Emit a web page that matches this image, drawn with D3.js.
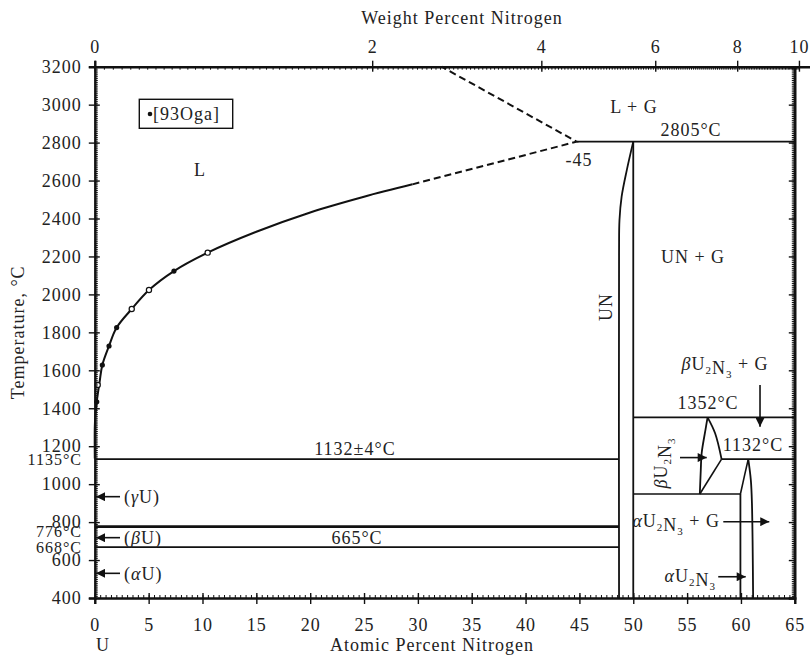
<!DOCTYPE html>
<html>
<head>
<meta charset="utf-8">
<script src="https://cdn.jsdelivr.net/npm/d3@7"></script>
<style>
body { margin: 0; background: #fff; }
svg text { font-family: "Liberation Serif", "Times New Roman", serif; fill: #222; font-size: 18px; letter-spacing: 1px; }
</style>
</head>
<body>
<svg id="chart" width="810" height="655"></svg>
<script>
// Tick labels
const atTicks = [0, 5, 10, 15, 20, 25, 30, 35, 40, 45, 50, 55, 60, 65];
const wtTicks = [0, 2, 4, 6, 8, 10];
const tempTicks = [400, 600, 800, 1000, 1200, 1400, 1600, 1800, 2000, 2200, 2400, 2600, 2800, 3000, 3200];

// Liquidus (at% N, temperature)
const liquidus = [[0, 1135], [0, 1300], [0.05, 1360], [0.18, 1434], [0.45, 1540], [0.7, 1628], [1.32, 1728],
    [2.03, 1825], [3.43, 1923], [5.03, 2023], [7.35, 2123], [10.48, 2220], [15, 2330], [20, 2432], [25, 2515], [29.5, 2580]];
const liquidusDashed = [[29.5, 2580], [44.75, 2805], [32.2, 3200]];

// Experimental points [93Oga]
const filledPts = [[0.18, 1434], [0.7, 1628], [1.32, 1728], [2.03, 1825], [7.35, 2123]];
const openPts = [[0.27, 1523], [3.43, 1923], [5.03, 2023], [10.48, 2220]];

// UN phase boundaries
const unLeft = [[50, 2805], [49.4, 2655], [48.92, 2515], [48.72, 2392], [48.68, 2218], [48.68, 400]];
const unRight = [[50, 2805], [50, 400]];

// U2N3 boundaries
const betaLeft = [[56.9, 1352], [56.7, 1285], [56.35, 1163], [56.27, 1075], [56.18, 948]];
const betaRight = [[56.9, 1352], [57.6, 1268], [58.2, 1132]];
const betaLower = [[58.2, 1132], [56.18, 948]];
const alphaLeft = [[59.95, 948], [59.95, 400]];
const alphaPeakL = [[59.95, 948], [60.35, 1050], [60.68, 1132]];
const alphaPeakR = [[60.68, 1132], [60.92, 1020], [61.02, 900], [61.13, 400]];

// Isotherms: temperature, from at%, to at%
const isoT = [2805, 1132, 776, 668, 1352, 1132, 948];
const isoFrom = [44.75, 0, 0, 0, 50, 58.2, 50];
const isoTo = [65, 48.68, 48.68, 48.68, 65, 65, 59.95];

// Arrows: [x1, T1, x2, T2] (tail -> head)
const arrows = [[2.34, 934, 0.11, 934], [2.34, 718, 0.11, 718], [2.34, 530, 0.11, 530],
    [61.77, 1523, 61.77, 1303], [54.34, 1140, 56.82, 1140], [58.36, 802, 62.63, 802], [57.89, 512, 60.44, 512]];

const svg = d3.select("#chart");

var x = d3.scaleLinear().domain([0, 65]).range([94.8, 794.8]);
var y = d3.scaleLinear().domain([400, 3200]).range([598, 66.7]);

// weight percent -> atomic percent for the top axis
function wtToAt(w) {
    let n = w / 14, u = (100 - w) / 238;
    return 100 * n / (n + u);
}
var wtDomain = d3.range(0, 10.51, 0.05);
var xw = d3.scaleLinear().domain(wtDomain).range(wtDomain.map(w => x(wtToAt(w))));

var line = d3.line().x(d => x(d[0])).y(d => y(d[1]));
var curve = d3.line().x(d => x(d[0])).y(d => y(d[1])).curve(d3.curveCatmullRom.alpha(0.5));

svg.append("defs").append("marker")
    .attr("id", "head")
    .attr("viewBox", "0 0 10 10")
    .attr("refX", 10).attr("refY", 5)
    .attr("markerWidth", 11).attr("markerHeight", 9)
    .attr("markerUnits", "userSpaceOnUse")
    .attr("orient", "auto")
    .append("path").attr("d", "M0,0 L10,5 L0,10 Z").attr("fill", "#111");

var g = svg.append("g").attr("fill", "none").attr("stroke", "#111").attr("stroke-width", 1.6);

// Isotherms
for (let i = 0; i < isoT.length; i++) {
    g.append("path").attr("d", line([[isoFrom[i], isoT[i]], [isoTo[i], isoT[i]]]))
        .attr("stroke-width", isoT[i] === 776 ? 2.6 : 1.6);
}

// Phase boundaries
g.append("path").attr("d", curve(liquidus)).attr("stroke-width", 2);
g.append("path").attr("d", line(liquidusDashed)).attr("stroke-width", 2).attr("stroke-dasharray", "7,4");
g.append("path").attr("d", curve(unLeft)).attr("stroke-width", 1.8);
g.append("path").attr("d", line(unRight)).attr("stroke-width", 1.8);
g.append("path").attr("d", curve(betaLeft)).attr("stroke-width", 1.8);
g.append("path").attr("d", curve(betaRight)).attr("stroke-width", 1.8);
g.append("path").attr("d", line(betaLower)).attr("stroke-width", 1.6);
g.append("path").attr("d", line(alphaLeft)).attr("stroke-width", 1.8);
g.append("path").attr("d", curve(alphaPeakL)).attr("stroke-width", 1.6);
g.append("path").attr("d", curve(alphaPeakR)).attr("stroke-width", 1.8);

// data points
svg.selectAll(".fpt").data(filledPts).enter().append("circle")
    .attr("cx", d => x(d[0])).attr("cy", d => y(d[1])).attr("r", 2.6).attr("fill", "#111");
svg.selectAll(".opt").data(openPts).enter().append("circle")
    .attr("cx", d => x(d[0])).attr("cy", d => y(d[1])).attr("r", 2.6)
    .attr("fill", "#fff").attr("stroke", "#111").attr("stroke-width", 1.2);

// arrows
arrows.forEach(function(a) {
    svg.append("line").attr("x1", x(a[0])).attr("y1", y(a[1])).attr("x2", x(a[2])).attr("y2", y(a[3]))
        .attr("stroke", "#111").attr("stroke-width", 1.6).attr("marker-end", "url(#head)");
});

// Axes
function styleAxis(sel) {
    sel.select(".domain").attr("stroke", "#111").attr("stroke-width", 2.4);
    sel.selectAll(".tick line").attr("stroke", "#111").attr("stroke-width", 1.4);
    sel.selectAll(".tick text").attr("fill", "#222");
    sel.attr("font-family", null).attr("font-size", null);
}
// minor ticks
var minorBottom = svg.append("g").attr("transform", "translate(0,598)")
    .call(d3.axisBottom(x).tickValues(d3.range(0, 65.01, 0.5)).tickSize(-3).tickFormat(""));
var minorLeft = svg.append("g").attr("transform", "translate(94.8,0)")
    .call(d3.axisLeft(y).tickValues(d3.range(400, 3201, 10)).tickSize(-3).tickFormat(""));
var minorRight = svg.append("g").attr("transform", "translate(794.8,0)")
    .call(d3.axisRight(y).tickValues(d3.range(400, 3201, 10)).tickSize(-3).tickFormat(""));
var minorTop = svg.append("g").attr("transform", "translate(0,66.7)")
    .call(d3.axisTop(xw).tickValues(d3.range(0, 9.96, 0.05)).tickSize(-3).tickFormat(""));
[minorBottom, minorLeft, minorRight, minorTop].forEach(a => {
    a.select(".domain").remove();
    a.selectAll(".tick line").attr("stroke", "#111").attr("stroke-width", 1);
});

var bottomAxis = svg.append("g").attr("transform", "translate(0,598)")
    .call(d3.axisBottom(x).tickValues(atTicks).tickSizeOuter(0).tickSize(6).tickPadding(14));
var leftAxis = svg.append("g").attr("transform", "translate(94.8,0)")
    .call(d3.axisLeft(y).tickValues(tempTicks).tickFormat(d3.format("d")).tickSizeOuter(0).tickSize(6).tickPadding(7));
var rightAxis = svg.append("g").attr("transform", "translate(794.8,0)")
    .call(d3.axisRight(y).tickValues(tempTicks).tickSizeOuter(0).tickSize(-6).tickFormat(""));
var topAxis = svg.append("g").attr("transform", "translate(0,66.7)")
    .call(d3.axisTop(xw).tickValues(wtTicks).tickSizeOuter(0).tickSize(6).tickPadding(8));
[bottomAxis, leftAxis, rightAxis, topAxis].forEach(styleAxis);
// major ticks also poke inside the plot
bottomAxis.selectAll(".tick line").attr("y1", -5);
leftAxis.selectAll(".tick line").attr("x1", 5);
topAxis.selectAll(".tick line").attr("y1", 5);
svg.append("line").attr("x1", 794.8).attr("x2", 794.8).attr("y1", y(3200)).attr("y2", y(400))
    .attr("stroke", "#111").attr("stroke-width", 2.4);

// Axis titles
svg.append("text").attr("x", 462).attr("y", 24).attr("text-anchor", "middle").text("Weight Percent Nitrogen");
svg.append("text").attr("x", 432).attr("y", 651).attr("text-anchor", "middle").text("Atomic Percent Nitrogen");
svg.append("text").attr("x", 103).attr("y", 651).attr("text-anchor", "middle").text("U");
svg.append("text").attr("transform", "translate(24," + y(1800) + ") rotate(-90)")
    .attr("text-anchor", "middle").text("Temperature, °C");

// Left special temperatures (stacked tightly between the tick labels)
[["1135°C", 1132], ["776°C", 752], ["668°C", 668]].forEach(function(d) {
    svg.append("text").attr("x", 82).attr("y", y(d[1])).attr("dy", "0.35em")
        .attr("text-anchor", "end").style("font-size", "16px").text(d[0]);
});

// Legend
svg.append("rect").attr("x", 139.3).attr("y", 99.3).attr("width", 93.4).attr("height", 29)
    .attr("fill", "none").attr("stroke", "#111").attr("stroke-width", 1.4);
svg.append("circle").attr("cx", 150).attr("cy", 114).attr("r", 2.3).attr("fill", "#111");
svg.append("text").attr("x", 153).attr("y", 120).text("[93Oga]");

// Labels
function label(txt, px, py, anchor) {
    return svg.append("text").attr("x", px).attr("y", py).attr("dy", "0.35em")
        .attr("text-anchor", anchor || "middle").text(txt);
}
label("L", 200, 170);
label("L + G", 634, 107);
label("2805°C", 691, 130);
label("-45", 579, 160);
label("UN + G", 693, 257);
label("1132±4°C", 355, 449);
label("665°C", 357, 538);
label("1352°C", 708, 403);
label("1132°C", 753, 445);
svg.append("text").attr("transform", "translate(606,307) rotate(-90)").attr("dy", "0.35em")
    .attr("text-anchor", "middle").text("UN");

function greek(ch, px, py, anchor) {
    let t = svg.append("text").attr("x", px).attr("y", py).attr("dy", "0.35em").attr("text-anchor", anchor || "start");
    t.append("tspan").text("(");
    t.append("tspan").attr("font-style", "italic").text(ch);
    t.append("tspan").text("U)");
}
greek("γ", 124, y(934));
greek("β", 124, y(718));
greek("α", 124, y(530));

function u2n3(sel, ch, tail) {
    sel.append("tspan").attr("font-style", "italic").text(ch);
    sel.append("tspan").text("U");
    sel.append("tspan").attr("font-size", "11px").attr("dy", "4").text("2");
    sel.append("tspan").text("N");
    sel.append("tspan").attr("font-size", "11px").attr("dy", "4").text("3");
    if (tail) sel.append("tspan").attr("dy", "-8").text(tail);
}
u2n3(svg.append("text").attr("x", 725).attr("y", 370).attr("text-anchor", "middle"), "β", " + G");
u2n3(svg.append("text").attr("x", 720).attr("y", 527).attr("text-anchor", "end"), "α", " + G");
u2n3(svg.append("text").attr("x", 716).attr("y", 582).attr("text-anchor", "end"), "α", "");
u2n3(svg.append("text").attr("transform", "translate(667,463) rotate(-90)").attr("text-anchor", "middle"), "β", "");
</script>
</body>
</html>
